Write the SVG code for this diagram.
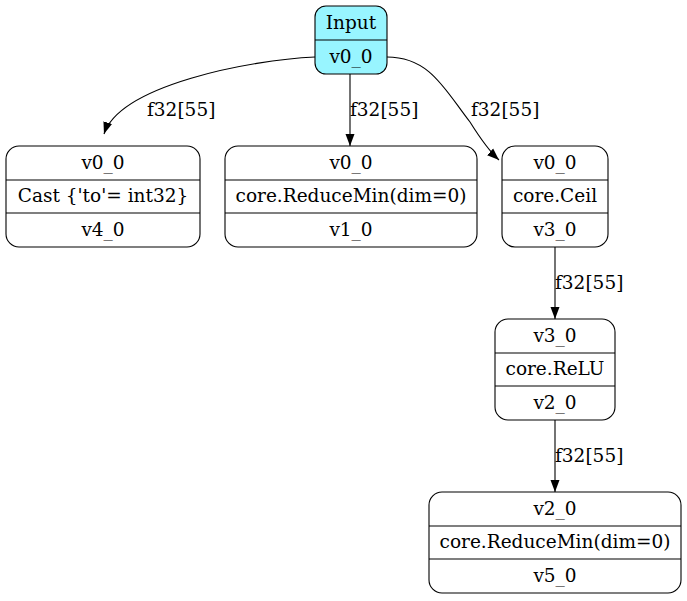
<svg xmlns="http://www.w3.org/2000/svg" width="687" height="601" viewBox="0 0 687 601">
<style>
text{font-family:"DejaVu Serif","Liberation Serif",serif;font-size:18.5px;text-anchor:middle;fill:#000}
.box{fill:#fff;stroke:#000;stroke-width:1.1}
.in{fill:#98f5ff;stroke:#000;stroke-width:1.1}
.div{stroke:#000;stroke-width:1.1}
.e{fill:none;stroke:#000;stroke-width:1.1}
.lbl{text-anchor:start}
</style>
<defs>
<marker id="ah" viewBox="0 0 12 10" refX="12" refY="5" markerWidth="12" markerHeight="10" markerUnits="userSpaceOnUse" orient="auto">
<path d="M0,0.5 L12,5 L0,9.5 Z" fill="#000"/>
</marker>
</defs>
<g id="connectors">
<path class="e" d="M315,57 C250,60 120,85 104,134" marker-end="url(#ah)"/>
<text class="lbl" x="147" y="116">f32[55]</text>
<path class="e" d="M350,74 L350,146" marker-end="url(#ah)"/>
<text class="lbl" x="350" y="116">f32[55]</text>
<path class="e" d="M387,57 C430,57 445,90 470,122 C480,138 488,150 499,160" marker-end="url(#ah)"/>
<text class="lbl" x="471" y="116">f32[55]</text>
<path class="e" d="M555,247 L555,319" marker-end="url(#ah)"/>
<text class="lbl" x="555" y="289">f32[55]</text>
<path class="e" d="M555,420 L555,492" marker-end="url(#ah)"/>
<text class="lbl" x="555" y="462">f32[55]</text>
</g>
<g id="input">
<rect class="in" x="315" y="6" width="72" height="68" rx="11"/>
<line class="div" x1="315" y1="40" x2="387" y2="40"/>
<text x="351" y="29">Input</text>
<text x="351" y="63">v0_0</text>
</g>
<g id="cast">
<rect class="box" x="6" y="146" width="194" height="101" rx="13"/>
<line class="div" x1="6" y1="180" x2="200" y2="180"/>
<line class="div" x1="6" y1="213" x2="200" y2="213"/>
<text x="103" y="169">v0_0</text>
<text x="103" y="202">Cast {'to'= int32}</text>
<text x="103" y="236">v4_0</text>
</g>
<g id="reducemin1">
<rect class="box" x="225" y="146" width="252" height="101" rx="13"/>
<line class="div" x1="225" y1="180" x2="477" y2="180"/>
<line class="div" x1="225" y1="213" x2="477" y2="213"/>
<text x="351" y="169">v0_0</text>
<text x="351" y="202">core.ReduceMin(dim=0)</text>
<text x="351" y="236">v1_0</text>
</g>
<g id="ceil">
<rect class="box" x="502" y="146" width="106" height="101" rx="13"/>
<line class="div" x1="502" y1="180" x2="608" y2="180"/>
<line class="div" x1="502" y1="213" x2="608" y2="213"/>
<text x="555" y="169">v0_0</text>
<text x="555" y="202">core.Ceil</text>
<text x="555" y="236">v3_0</text>
</g>
<g id="relu">
<rect class="box" x="495" y="319" width="120" height="101" rx="13"/>
<line class="div" x1="495" y1="353" x2="615" y2="353"/>
<line class="div" x1="495" y1="386" x2="615" y2="386"/>
<text x="555" y="342">v3_0</text>
<text x="555" y="375">core.ReLU</text>
<text x="555" y="409">v2_0</text>
</g>
<g id="reducemin2">
<rect class="box" x="429" y="492" width="252" height="101" rx="13"/>
<line class="div" x1="429" y1="526" x2="681" y2="526"/>
<line class="div" x1="429" y1="559" x2="681" y2="559"/>
<text x="555" y="515">v2_0</text>
<text x="555" y="548">core.ReduceMin(dim=0)</text>
<text x="555" y="582">v5_0</text>
</g>
</svg>
